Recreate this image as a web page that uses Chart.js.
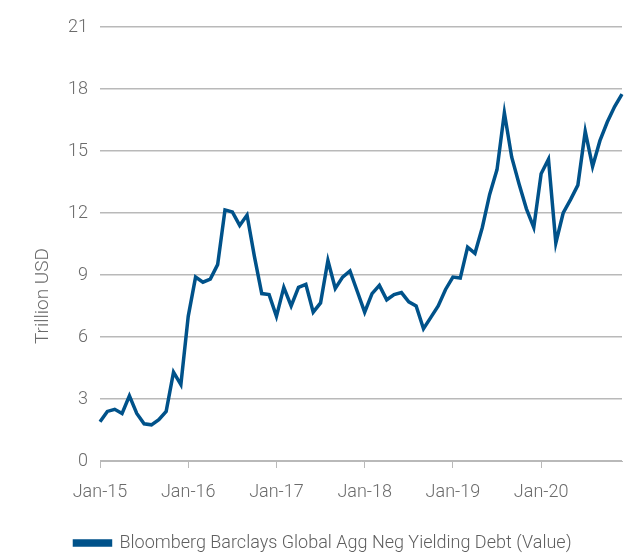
<!DOCTYPE html>
<html>
<head>
<meta charset="utf-8">
<script src="https://cdn.jsdelivr.net/npm/chart.js@4"></script>
<style>
    html, body { margin: 0; padding: 0; background: #fff; }
    #wrap { width: 640px; height: 555px; }
</style>
</head>
<body>
<div id="wrap"><canvas id="deudaNegativa"></canvas></div>
<script>
// Meses Jan-15 .. Dec-20
const anios = ['15', '16', '17', '18', '19', '20'];
const meses = ['Jan', 'Feb', 'Mar', 'Apr', 'May', 'Jun', 'Jul', 'Aug', 'Sep', 'Oct', 'Nov', 'Dec'];
const etiquetas = [];
anios.forEach(a => meses.forEach(m => etiquetas.push(m + '-' + a)));

// Trillion USD
const valores = [
    1.9, 2.4, 2.5, 2.3, 3.15, 2.3, 1.8, 1.75, 2.0, 2.4, 4.3, 3.7,
    7.0, 8.9, 8.65, 8.8, 9.5, 12.15, 12.05, 11.4, 11.9, 9.9, 8.1, 8.05,
    7.0, 8.4, 7.5, 8.4, 8.55, 7.2, 7.65, 9.7, 8.35, 8.9, 9.2, 8.2,
    7.2, 8.1, 8.5, 7.8, 8.05, 8.15, 7.7, 7.5, 6.4, 6.95, 7.5, 8.3,
    8.9, 8.85, 10.35, 10.05, 11.3, 12.9, 14.1, 16.85, 14.7, 13.4, 12.2, 11.3,
    13.9, 14.6, 10.55, 12.0, 12.65, 13.35, 15.95, 14.25, 15.5, 16.4, 17.15, 17.75
];

const serieNombre = 'Bloomberg Barclays Global Agg Neg Yielding Debt (Value)';
const tituloY = 'Trillion USD';

const azul = '#00528a';
const gris = '#b9b9b9';
const texto = '#6b6b6b';

// título del eje Y dibujado a mano (centrado más abajo que el área)
const tituloEjeY = {
    id: 'tituloEjeY',
    afterDraw(chart) {
        const c = chart.ctx;
        c.save();
        c.translate(43, 296);
        c.rotate(-Math.PI / 2);
        c.font = '300 19px Roboto';
        c.fillStyle = texto;
        c.textAlign = 'center';
        c.textBaseline = 'middle';
        c.fillText(tituloY, 0, 0);
        c.restore();
    }
};

new Chart(document.getElementById('deudaNegativa'), {
    type: 'line',
    data: {
        labels: etiquetas,
        datasets: [{
            label: serieNombre,
            data: valores,
            borderColor: azul,
            backgroundColor: azul,
            borderWidth: 3.5,
            pointRadius: 0,
            tension: 0
        }]
    },
    options: {
        responsive: true,
        maintainAspectRatio: false,
        animation: false,
        layout: { padding: { top: 27, right: 18, left: 24, bottom: -7 } },
        scales: {
            x: {
                offset: false,
                grid: {
                    drawOnChartArea: false,
                    tickLength: 7,
                    tickColor: ctx => (ctx.index % 12 === 0 ? gris : 'rgba(0,0,0,0)')
                },
                border: { color: gris },
                ticks: {
                    autoSkip: false,
                    maxRotation: 0,
                    padding: 14,
                    color: texto,
                    font: { family: 'Roboto', size: 18, weight: 300 },
                    callback: (v, i) => (i % 12 === 0 ? etiquetas[i] : '')
                },
                afterFit: s => { s.height = 73; }
            },
            y: {
                min: 0,
                max: 21,
                grid: { color: gris, drawTicks: false, lineWidth: 1.5 },
                border: { display: false },
                ticks: {
                    stepSize: 3,
                    padding: 12,
                    color: texto,
                    font: { family: 'Roboto', size: 18, weight: 300 }
                },
                afterFit: s => { s.width = 76; }
            }
        },
        plugins: {
            legend: {
                position: 'bottom',
                labels: {
                    boxWidth: 36,
                    boxHeight: 4,
                    padding: 0,
                    color: '#5f5f5f',
                    font: { family: 'Roboto', size: 18, weight: 300 }
                }
            },
            tooltip: { enabled: false }
        }
    },
    plugins: [tituloEjeY]
});
</script>
</body>
</html>
